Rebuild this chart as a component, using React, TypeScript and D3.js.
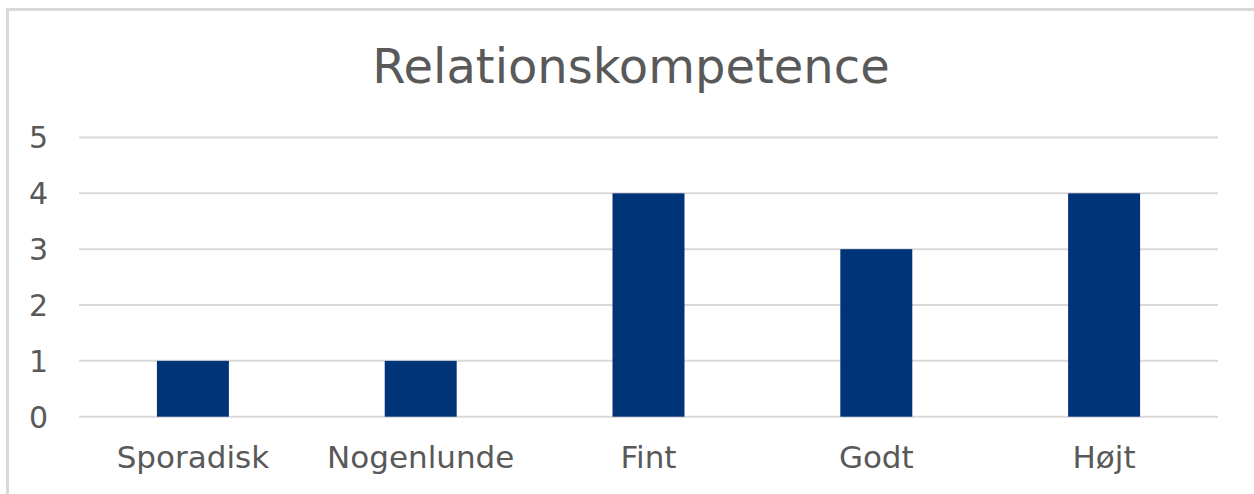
import React from "react";
import * as d3 from "d3";

const categories = ["Sporadisk", "Nogenlunde", "Fint", "Godt", "Højt"];
const values = [1, 1, 4, 3, 4];
const yTicks = [0, 1, 2, 3, 4, 5];
const title = "Relationskompetence";

export default function App() {
  const W = 1254;
  const H = 494;
  const left = 79;
  const right = 1218;
  const top = 137.5;
  const bottom = 416.7;
  const x = d3
    .scaleBand<string>()
    .domain(categories)
    .range([left, right])
    .paddingInner(0.684)
    .paddingOuter(0.342);
  const y = d3.scaleLinear().domain([0, 5]).range([bottom, top]);
  const font = "'DejaVu Sans', Verdana, sans-serif";
  return (
    <svg
      width={W}
      height={H}
      style={{ position: "absolute", left: 0, top: 0, background: "#fff" }}
    >
      <rect x={0} y={0} width={W} height={H} fill="#fff" />
      <rect
        x={7.5}
        y={9.5}
        width={W + 20}
        height={H + 20}
        fill="#fff"
        stroke="#d9d9d9"
        strokeWidth={3}
      />
      <text
        x={631}
        y={83}
        textAnchor="middle"
        fontFamily={font}
        fontSize={48}
        fill="#595959"
      >
        {title}
      </text>
      {yTicks.map((t) => (
        <g key={t}>
          <line
            x1={left}
            x2={right}
            y1={y(t)}
            y2={y(t)}
            stroke="#d9d9d9"
            strokeWidth={2}
          />
          <text
            x={48}
            y={y(t)}
            dy="0.36em"
            textAnchor="end"
            fontFamily={font}
            fontSize={30}
            fill="#595959"
          >
            {t}
          </text>
        </g>
      ))}
      {categories.map((c, i) => (
        <g key={c}>
          <rect
            x={x(c)}
            y={y(values[i])}
            width={x.bandwidth()}
            height={y(0) - y(values[i])}
            fill="#003478"
          />
          <text
            x={(x(c) as number) + x.bandwidth() / 2}
            y={468}
            textAnchor="middle"
            fontFamily={font}
            fontSize={31}
            fill="#595959"
          >
            {c}
          </text>
        </g>
      ))}
    </svg>
  );
}
